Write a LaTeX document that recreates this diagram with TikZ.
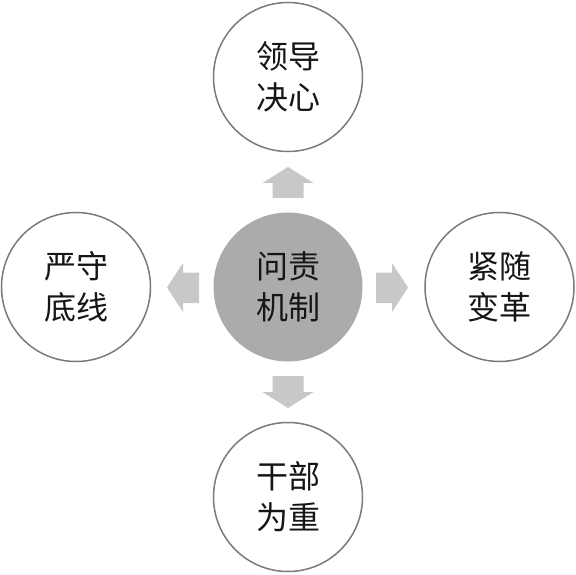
\documentclass[tikz,border=0pt]{standalone}
\usepackage{fontspec}
\newfontfamily\cjk{Noto Sans CJK SC}
\definecolor{ringc}{HTML}{7A7A7A}
\definecolor{hubc}{HTML}{ABABAB}
\definecolor{arrc}{HTML}{C8C8C8}
\definecolor{txtc}{HTML}{161616}
\begin{document}
\begin{tikzpicture}[x=1pt,y=-1pt,
  ring/.style={circle,draw=ringc,line width=1.5pt,minimum size=149pt,inner sep=0pt,
    align=center,text=txtc,font=\cjk\fontsize{32}{41}\selectfont},
  hub/.style={ring,draw=none,fill=hubc},
  blockarrow/.style={fill=arrc,draw=none}]
\useasboundingbox (0,0) rectangle (576,575);
\node[hub]  (c) at (288,287) {问责\\机制};
\node[ring] (t) at (288,77)  {领导\\决心};
\node[ring] (b) at (288,497) {干部\\为重};
\node[ring] (l) at (76,287)  {严守\\底线};
\node[ring] (r) at (499.5,287) {紧随\\变革};
% up arrow
\fill[blockarrow] (272.5,198) -- (272.5,183) -- (262.5,183) -- (288,167) -- (313.5,183) -- (303.5,183) -- (303.5,198) -- cycle;
% down arrow
\fill[blockarrow] (272.5,376) -- (272.5,392) -- (262.5,392) -- (288,408) -- (313.5,392) -- (303.5,392) -- (303.5,376) -- cycle;
% right arrow
\fill[blockarrow] (376,272.5) -- (392,272.5) -- (392,263) -- (408,287.5) -- (392,312) -- (392,303) -- (376,303) -- cycle;
% left arrow
\fill[blockarrow] (199,272.5) -- (183,272.5) -- (183,263) -- (167,287.5) -- (183,312) -- (183,303) -- (199,303) -- cycle;
\end{tikzpicture}
\end{document}
